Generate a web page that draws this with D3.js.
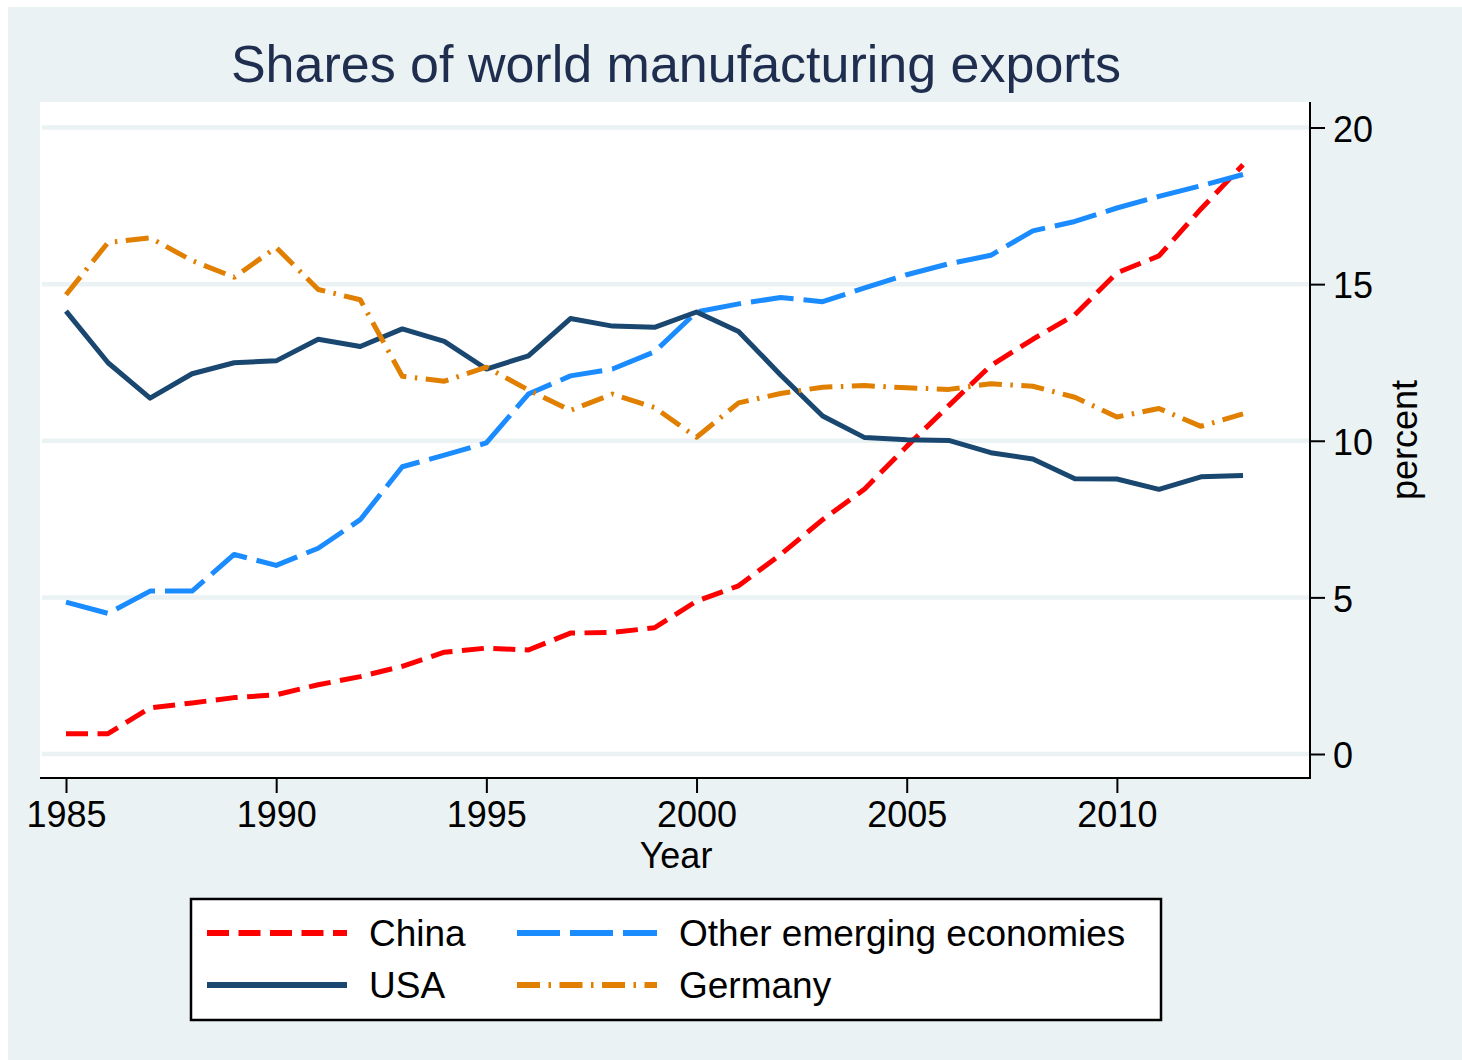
<!DOCTYPE html>
<html>
<head>
<meta charset="utf-8">
<script src="https://cdn.jsdelivr.net/npm/d3@7"></script>
<style>
  html, body { margin: 0; padding: 0; background: #fff; }
  text { font-family: "Liberation Sans", Arial, sans-serif; }
</style>
</head>
<body>
<div id="viz"></div>
<script>
const width = 1462;
const height = 1060;

// Data (percent of world manufacturing exports)
const years = [1985, 1986, 1987, 1988, 1989, 1990, 1991, 1992, 1993, 1994,
  1995, 1996, 1997, 1998, 1999, 2000, 2001, 2002, 2003, 2004,
  2005, 2006, 2007, 2008, 2009, 2010, 2011, 2012, 2013];
const china = [0.65, 0.65, 1.47, 1.63, 1.8, 1.89, 2.21, 2.47, 2.8, 3.25,
  3.38, 3.32, 3.86, 3.88, 4.03, 4.88, 5.37, 6.37, 7.48, 8.46,
  9.82, 11.12, 12.4, 13.24, 14.02, 15.36, 15.9, 17.4, 18.81];
const otherEmerging = [4.85, 4.49, 5.2, 5.2, 6.37, 6.02, 6.57, 7.48, 9.17, 9.54,
  9.93, 11.49, 12.07, 12.29, 12.84, 14.11, 14.37, 14.57, 14.44, 14.88,
  15.3, 15.65, 15.92, 16.7, 17.0, 17.43, 17.8, 18.14, 18.5];
const usa = [14.14, 12.49, 11.36, 12.14, 12.49, 12.55, 13.24, 13.01, 13.57, 13.17,
  12.29, 12.71, 13.9, 13.66, 13.62, 14.11, 13.49, 12.1, 10.79, 10.1,
  10.03, 10.01, 9.62, 9.42, 8.79, 8.78, 8.45, 8.85, 8.89];
const germany = [14.66, 16.33, 16.48, 15.75, 15.22, 16.17, 14.83, 14.5, 12.06, 11.9,
  12.35, 11.62, 10.97, 11.49, 11.06, 10.11, 11.21, 11.51, 11.71, 11.76,
  11.69, 11.64, 11.82, 11.74, 11.39, 10.76, 11.03, 10.46, 10.86];

const xTicks = [1985, 1990, 1995, 2000, 2005, 2010];
const yTicks = [0, 5, 10, 15, 20];

const series = [
  { name: 'China', values: china, color: '#ff0000', dash: '22,9.5' },
  { name: 'Other emerging economies', values: otherEmerging, color: '#1a8cff', dash: '43,10' },
  { name: 'USA', values: usa, color: '#1a476f', dash: null },
  { name: 'Germany', values: germany, color: '#e07f00', dash: '23,8.5,2.5,8.5' },
];

const bg = '#eaf2f3';
const plot = { left: 40, right: 1310, top: 102, bottom: 778 };

const xScale = d3.scaleLinear()
  .domain([1985, 2013])
  .range([66, 1243]);

const yScale = d3.scaleLinear()
  .domain([0, 20])
  .range([754, 127.5]);

const svg = d3.select('#viz')
  .append('svg')
    .attr('width', width)
    .attr('height', height);

// graph region
svg.append('rect')
  .attr('x', 8).attr('y', 7)
  .attr('width', width - 8).attr('height', height - 7)
  .attr('fill', bg);

// plot region
svg.append('rect')
  .attr('x', plot.left).attr('y', plot.top)
  .attr('width', plot.right - plot.left).attr('height', plot.bottom - plot.top)
  .attr('fill', '#fff');

// gridlines
svg.append('g')
  .selectAll('line')
  .data(yTicks)
  .join('line')
    .attr('x1', plot.left + 2).attr('x2', plot.right)
    .attr('y1', d => yScale(d)).attr('y2', d => yScale(d))
    .attr('stroke', bg)
    .attr('stroke-width', 4.5);

// title
svg.append('text')
  .attr('x', 676).attr('y', 82)
  .attr('text-anchor', 'middle')
  .attr('fill', '#1f2d4f')
  .style('font-size', '52px')
  .text('Shares of world manufacturing exports');

// lines
const line = d3.line()
  .x((d, i) => xScale(years[i]))
  .y(d => yScale(d));

svg.append('g')
  .selectAll('path')
  .data(series)
  .join('path')
    .attr('d', d => line(d.values))
    .attr('fill', 'none')
    .attr('stroke', d => d.color)
    .attr('stroke-width', 5)
    .attr('stroke-linejoin', 'round')
    .attr('stroke-dasharray', d => d.dash);

// x axis
const xAxis = d3.axisBottom(xScale)
  .tickValues(xTicks)
  .tickFormat(d3.format('d'))
  .tickSize(15)
  .tickSizeOuter(0)
  .tickPadding(8);

const xAxisGroup = svg.append('g')
  .attr('transform', `translate(0, ${plot.bottom})`)
  .call(xAxis);
xAxisGroup.select('.domain').remove();
xAxisGroup.selectAll('line').attr('stroke', '#000').attr('stroke-width', 2);
xAxisGroup.selectAll('text')
  .attr('fill', '#000')
  .style('font-family', '"Liberation Sans", Arial, sans-serif')
  .style('font-size', '36px');

// y axis on the right
const yAxis = d3.axisRight(yScale)
  .tickValues(yTicks)
  .tickSize(15)
  .tickSizeOuter(0)
  .tickPadding(8);

const yAxisGroup = svg.append('g')
  .attr('transform', `translate(${plot.right}, 0)`)
  .call(yAxis);
yAxisGroup.select('.domain').remove();
yAxisGroup.selectAll('line').attr('stroke', '#000').attr('stroke-width', 2);
yAxisGroup.selectAll('text')
  .attr('fill', '#000')
  .attr('dy', '0.38em')
  .style('font-family', '"Liberation Sans", Arial, sans-serif')
  .style('font-size', '36px');

// axis lines (full plot region extent)
svg.append('line')
  .attr('x1', plot.left).attr('x2', plot.right + 1)
  .attr('y1', plot.bottom).attr('y2', plot.bottom)
  .attr('stroke', '#000').attr('stroke-width', 2);
svg.append('line')
  .attr('x1', plot.right).attr('x2', plot.right)
  .attr('y1', plot.top).attr('y2', plot.bottom)
  .attr('stroke', '#000').attr('stroke-width', 2);

// axis titles
svg.append('text')
  .attr('x', 676).attr('y', 868)
  .attr('text-anchor', 'middle')
  .attr('fill', '#000')
  .style('font-size', '36px')
  .text('Year');

svg.append('text')
  .attr('transform', 'translate(1417, 440) rotate(-90)')
  .attr('text-anchor', 'middle')
  .attr('fill', '#000')
  .style('font-size', '36px')
  .text('percent');

// legend
svg.append('rect')
  .attr('x', 191).attr('y', 899)
  .attr('width', 970).attr('height', 121)
  .attr('fill', '#fff')
  .attr('stroke', '#000')
  .attr('stroke-width', 2.5);

const legendPos = [
  { x: 207, y: 933 },  // China
  { x: 517, y: 933 },  // Other emerging
  { x: 207, y: 985 },  // USA
  { x: 517, y: 985 },  // Germany
];

const legend = svg.append('g')
  .selectAll('g')
  .data(series)
  .join('g')
    .attr('transform', (d, i) => `translate(${legendPos[i].x}, ${legendPos[i].y})`);

legend.append('line')
  .attr('x1', 0).attr('x2', 140)
  .attr('y1', 0).attr('y2', 0)
  .attr('stroke', d => d.color)
  .attr('stroke-width', 6)
  .attr('stroke-dasharray', d => d.dash);

legend.append('text')
  .attr('x', 162).attr('y', 13)
  .attr('fill', '#000')
  .style('font-size', '37px')
  .text(d => d.name);
</script>
</body>
</html>
